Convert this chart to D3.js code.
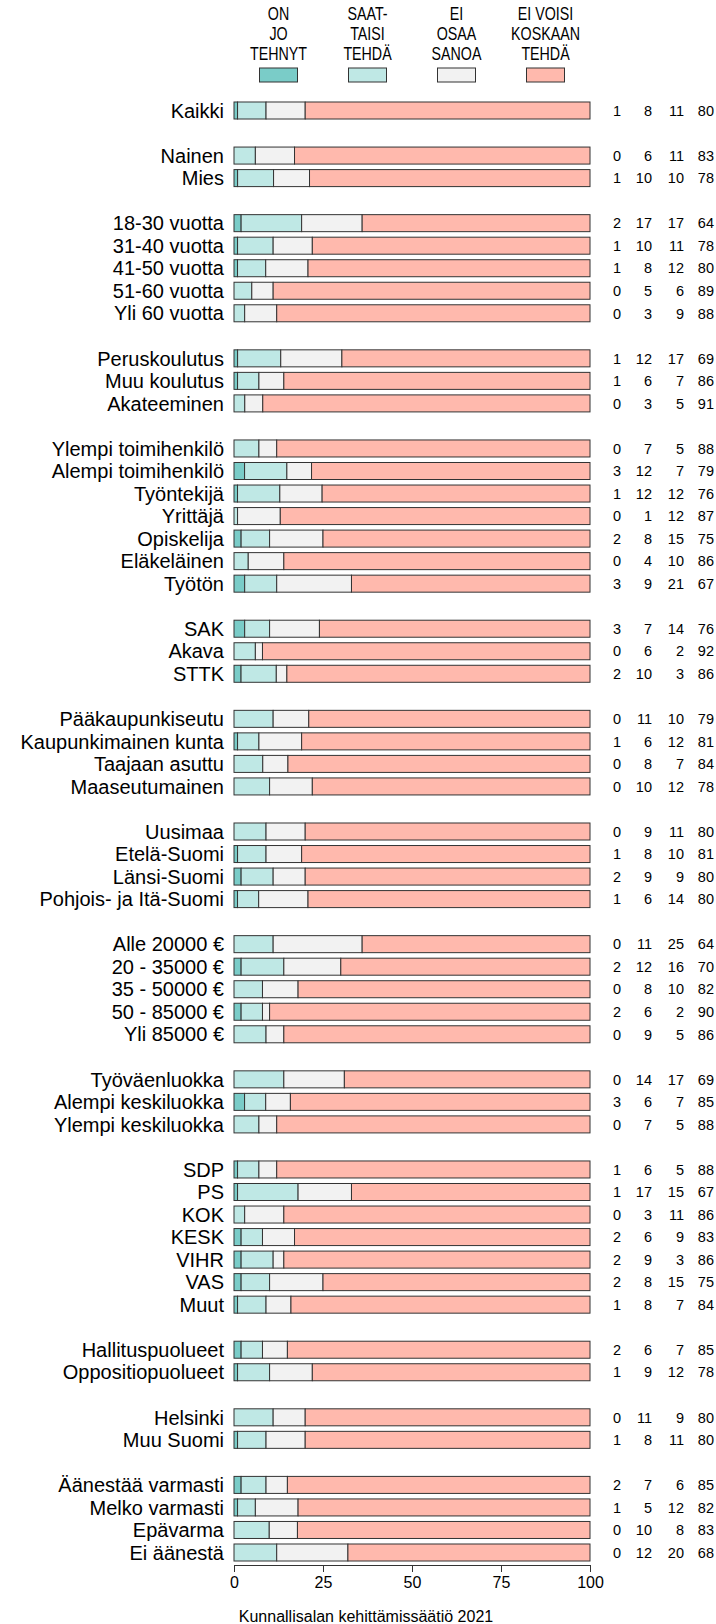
<!DOCTYPE html>
<html>
<head>
<meta charset="utf-8">
<script src="https://cdn.jsdelivr.net/npm/d3@7"></script>
<style>
  body { margin: 0; background: #fff; }
  svg text { font-family: "Liberation Sans", Arial, sans-serif; fill: #000; }
</style>
</head>
<body>
<div id="chart"></div>
<script>
// ryhmien koot (rivien määrä ryhmässä), ryhmien väliin jää yksi tyhjä rivi
const groupSizes = [1, 2, 5, 3, 7, 3, 4, 4, 5, 3, 7, 2, 2, 4];

const labels = [
  "Kaikki",
  "Nainen", "Mies",
  "18-30 vuotta", "31-40 vuotta", "41-50 vuotta", "51-60 vuotta", "Yli 60 vuotta",
  "Peruskoulutus", "Muu koulutus", "Akateeminen",
  "Ylempi toimihenkilö", "Alempi toimihenkilö", "Työntekijä", "Yrittäjä", "Opiskelija", "Eläkeläinen", "Työtön",
  "SAK", "Akava", "STTK",
  "Pääkaupunkiseutu", "Kaupunkimainen kunta", "Taajaan asuttu", "Maaseutumainen",
  "Uusimaa", "Etelä-Suomi", "Länsi-Suomi", "Pohjois- ja Itä-Suomi",
  "Alle 20000 €", "20 - 35000 €", "35 - 50000 €", "50 - 85000 €", "Yli 85000 €",
  "Työväenluokka", "Alempi keskiluokka", "Ylempi keskiluokka",
  "SDP", "PS", "KOK", "KESK", "VIHR", "VAS", "Muut",
  "Hallituspuolueet", "Oppositiopuolueet",
  "Helsinki", "Muu Suomi",
  "Äänestää varmasti", "Melko varmasti", "Epävarma", "Ei äänestä"
];

const onJo      = [1, 0,1, 2,1,1,0,0, 1,1,0, 0,3,1,0,2,0,3, 3,0,2, 0,1,0,0, 0,1,2,1, 0,2,0,2,0, 0,3,0, 1,1,0,2,2,2,1, 2,1, 0,1, 2,1,0,0];
const saattaisi = [8, 6,10, 17,10,8,5,3, 12,6,3, 7,12,12,1,8,4,9, 7,6,10, 11,6,8,10, 9,8,9,6, 11,12,8,6,9, 14,6,7, 6,17,3,6,9,8,8, 6,9, 11,8, 7,5,10,12];
const eiOsaa    = [11, 11,10, 17,11,12,6,9, 17,7,5, 5,7,12,12,15,10,21, 14,2,3, 10,12,7,12, 11,10,9,14, 25,16,10,2,5, 17,7,5, 5,15,11,9,3,15,7, 7,12, 9,11, 6,12,8,20];
const eiVoisi   = [80, 83,78, 64,78,80,89,88, 69,86,91, 88,79,76,87,75,86,67, 76,92,86, 79,81,84,78, 80,81,80,80, 64,70,82,90,86, 69,85,88, 88,67,86,83,86,75,84, 85,78, 80,80, 85,82,83,68];

const legendLabels = [["ON", "JO", "TEHNYT"], ["SAAT-", "TAISI", "TEHDÄ"], ["EI", "OSAA", "SANOA"], ["EI VOISI", "KOSKAAN", "TEHDÄ"]];
const xTicks = [0, 25, 50, 75, 100];
const colors = ["#7accc8", "#bfe8e5", "#f2f2f2", "#ffb9ad"];
const source = "Kunnallisalan kehittämissäätiö 2021";

const width = 716, height = 1624;

// rivien paikat
const slots = [];
let s = 0;
groupSizes.forEach((n, gi) => {
  for (let k = 0; k < n; k++) slots.push(s++);
  s++;
});
const nSlots = s - 1;

const rows = labels.map((l, i) => {
  const vals = [onJo[i], saattaisi[i], eiOsaa[i], eiVoisi[i]];
  const tot = d3.sum(vals);
  let acc = 0;
  const segs = vals.map((v, j) => {
    const seg = { j: j, x0: acc / tot * 100, x1: (acc + v) / tot * 100 };
    acc += v;
    return seg;
  });
  return { label: l, slot: slots[i], vals: vals, segs: segs };
});

const svg = d3.select("#chart").append("svg")
  .attr("width", width)
  .attr("height", height);

const x = d3.scaleLinear().domain([0, 100]).range([234, 590]);
const y = d3.scalePoint().domain(d3.range(nSlots)).range([110.5, 1552.5]);
const barH = y.step() * 0.755;

// legenda
const leg = svg.append("g").selectAll("g")
  .data(legendLabels)
  .enter().append("g")
  .attr("transform", (d, i) => "translate(" + x(12.5 + 25 * i) + ",0)");

leg.each(function (d) {
  const g = d3.select(this);
  d.forEach((t, k) => {
    g.append("text")
      .attr("transform", "translate(0," + (20 + 20 * k) + ") scale(0.77,1)")
      .attr("text-anchor", "middle")
      .style("font-size", "18.5px")
      .text(t);
  });
});

leg.append("rect")
  .attr("x", -19)
  .attr("y", 68)
  .attr("width", 38)
  .attr("height", 14)
  .attr("fill", (d, i) => colors[i])
  .attr("stroke", "#333")
  .attr("stroke-width", 1);

// palkit
const row = svg.append("g").selectAll("g")
  .data(rows)
  .enter().append("g")
  .attr("transform", d => "translate(0," + y(d.slot) + ")");

row.selectAll("rect")
  .data(d => d.segs)
  .enter().append("rect")
  .attr("x", d => x(d.x0))
  .attr("y", -barH / 2)
  .attr("width", d => Math.max(0, x(d.x1) - x(d.x0)))
  .attr("height", barH)
  .attr("fill", d => colors[d.j])
  .attr("stroke", "#333")
  .attr("stroke-width", 1);

row.append("text")
  .attr("x", 224)
  .attr("dy", "0.36em")
  .attr("text-anchor", "end")
  .style("font-size", "20px")
  .text(d => d.label);

const valX = [621, 652, 684, 714];
row.selectAll("text.val")
  .data(d => d.vals)
  .enter().append("text")
  .attr("class", "val")
  .attr("x", (d, j) => valX[j])
  .attr("dy", "0.36em")
  .attr("text-anchor", "end")
  .style("font-size", "14.5px")
  .text(d => d);

// akseli
const axis = svg.append("g")
  .attr("transform", "translate(0,1565)")
  .call(d3.axisBottom(x).tickValues(xTicks).tickSize(7).tickSizeOuter(0).tickPadding(5));
axis.select(".domain").attr("stroke", "#333");
axis.selectAll(".tick line").attr("stroke", "#333");
axis.selectAll(".tick text")
  .style("font-size", "16px")
  .style("font-family", "'Liberation Sans', Arial, sans-serif");

svg.append("text")
  .attr("x", 366)
  .attr("y", 1622)
  .attr("text-anchor", "middle")
  .style("font-size", "16px")
  .text(source);
</script>
</body>
</html>
